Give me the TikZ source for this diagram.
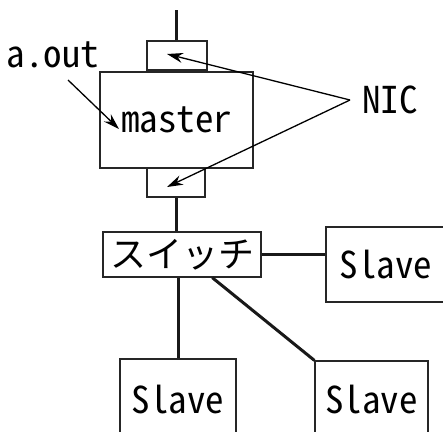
\documentclass[tikz,border=0pt]{standalone}
\usepackage{fontspec}
\usetikzlibrary{arrows.meta,calc}
\newfontfamily\latf{Noto Sans CJK JP}[RawFeature=+hwid]
\newfontfamily\jpf{Noto Sans CJK JP}
\tikzset{
  box/.style={draw=black!85, line width=1.2pt, inner sep=0pt, font=\latf\fontsize{37}{37}\selectfont},
  wire/.style={draw=black!90, line width=3pt},
  ptr/.style={draw=black, line width=1.3pt, -{Stealth[length=16pt,width=10pt]}},
  lab/.style={inner sep=0pt, font=\latf\fontsize{37}{37}\selectfont}
}
\begin{document}
\begin{tikzpicture}[x=1pt,y=-1pt]
\useasboundingbox (0,0) rectangle (443,431);
\clip (0,0) rectangle (443,431);
% nodes
\node[box, minimum width=60pt, minimum height=29pt] (nic1) at (177,55.5) {};
\node[box, minimum width=153pt, minimum height=96pt] (master) at (176.5,120) {master};
\node[box, minimum width=58pt, minimum height=29pt] (nic2) at (176,182.5) {};
\node[box, minimum width=158pt, minimum height=45pt, font=\jpf\fontsize{36}{36}\selectfont] (switch) at (182,254.5) {スイッチ};
\node[box, minimum width=120pt, minimum height=75pt] (slaveR) at (386,264.5) {Slave};
\node[box, minimum width=116pt, minimum height=82pt] (slaveL) at (178,400) {Slave};
\node[box, minimum width=113pt, minimum height=78pt] (slaveB) at (371.5,400) {Slave};
\node[lab] (nic) at (390,100) {NIC};
\node[lab] (aout) at (53,55) {a.out};
\coordinate (top) at (176,10);
\coordinate (nicpt) at (350,100);
\coordinate (aoutstart) at (68,80);
\coordinate (aouttip) at (119,129);
\coordinate (tip1) at (167,54);
\coordinate (tip2) at (167,187);
% wires
\draw[wire] (top) -- (top |- nic1.north);
\draw[wire] (nic2.south) -- (nic2.south |- switch.north);
\draw[wire] (switch.east) -- (switch.east -| slaveR.west);
\draw[wire] (slaveL.north |- switch.south) -- (slaveL.north);
\draw[wire] ($(switch.south west)!0.69!(switch.south east)$) -- (slaveB.north west);
% pointers
\draw[ptr] (nicpt) -- (tip1);
\draw[ptr] (nicpt) -- (tip2);
\draw[ptr] (aoutstart) -- (aouttip);
\end{tikzpicture}
\end{document}
